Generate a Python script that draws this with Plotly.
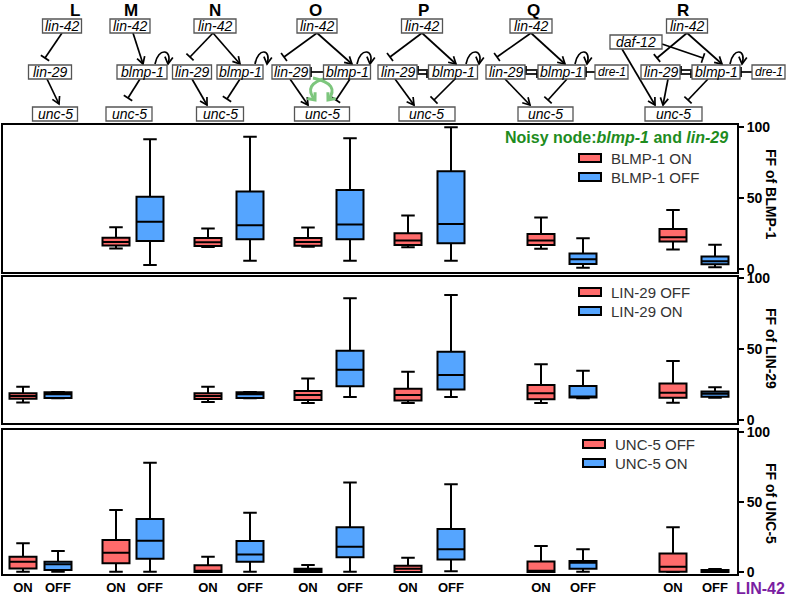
import plotly.graph_objects as go
import math

# ---------------- DATA ----------------
groups = ["L", "M", "N", "O", "P", "Q", "R"]
state_labels = ["ON", "OFF"]

# Panel 1: FF of BLMP-1  (red = BLMP-1 ON, blue = BLMP-1 OFF); None = not shown
blmp_on_lf  = [None, 14.5, 15.5, 15.7, 15.3, 14.3, 13.8]
blmp_on_q1  = [None, 16.5, 16.2, 16.4, 16.9, 16.9, 19.3]
blmp_on_med = [None, 19.0, 18.8, 19.0, 20.0, 20.0, 22.3]
blmp_on_q3  = [None, 22.0, 21.8, 21.8, 25.1, 24.6, 28.2]
blmp_on_uf  = [None, 29.4, 28.6, 29.3, 37.6, 36.2, 41.5]
blmp_off_lf  = [None, 2.8, 5.9, 5.9, 5.9, 0.9, 1.2]
blmp_off_q1  = [None, 19.7, 20.9, 20.9, 18.1, 3.5, 3.3]
blmp_off_med = [None, 33.3, 30.8, 31.4, 31.7, 6.8, 5.4]
blmp_off_q3  = [None, 50.9, 54.5, 55.6, 68.8, 11.0, 8.9]
blmp_off_uf  = [None, 91.3, 93.2, 92.0, 99.8, 21.6, 17.1]

# Panel 2: FF of LIN-29 (red = LIN-29 OFF, blue = LIN-29 ON)
lin_off_lf  = [12.4, None, 12.7, 12.0, 12.0, 12.0, 12.2]
lin_off_q1  = [15.0, None, 14.8, 14.1, 13.8, 14.6, 15.7]
lin_off_med = [16.9, None, 16.9, 17.6, 17.6, 18.8, 19.2]
lin_off_q3  = [18.8, None, 18.8, 20.4, 22.1, 24.6, 25.8]
lin_off_uf  = [23.5, None, 23.5, 29.3, 34.0, 39.2, 41.5]
lin_on_lf  = [15.3, None, 15.3, 16.2, 16.2, 15.3, 15.7]
lin_on_q1  = [15.5, None, 15.5, 23.7, 21.4, 15.8, 16.4]
lin_on_med = [18.1, None, 18.1, 35.4, 31.7, 16.5, 18.5]
lin_on_q3  = [19.5, None, 19.5, 48.8, 48.1, 23.9, 20.0]
lin_on_uf  = [19.8, None, 19.8, 85.7, 88.0, 34.7, 23.0]

# Panel 3: FF of UNC-5 (red = UNC-5 OFF, blue = UNC-5 ON)
unc_off_lf  = [0.2, 0.2, 0.0, 0.0, 0.0, 0.0, 0.0]
unc_off_q1  = [2.6, 6.2, 0.0, 0.0, 0.0, 0.0, 0.2]
unc_off_med = [7.4, 13.8, 0.9, 1.0, 2.4, 1.0, 3.8]
unc_off_q3  = [10.9, 22.9, 4.8, 2.4, 4.5, 7.6, 13.3]
unc_off_uf  = [20.5, 44.3, 10.9, 5.0, 10.2, 18.6, 31.9]
unc_on_lf  = [0.2, 0.2, 0.2, 0.2, 0.5, 0.2, 0.0]
unc_on_q1  = [1.4, 9.5, 7.4, 10.5, 9.0, 2.4, 0.0]
unc_on_med = [5.5, 22.4, 12.6, 18.1, 16.2, 6.7, 0.7]
unc_on_q3  = [7.4, 37.9, 22.1, 31.9, 30.7, 7.9, 1.4]
unc_on_uf  = [15.0, 78.1, 42.4, 64.0, 62.6, 16.2, 2.1]

y_ticks = [0, 50, 100]

# ---------------- LAYOUT CONSTANTS ----------------
W, H = 787, 596
FONT = "Arial, Liberation Sans, sans-serif"
RED = "#FF6B6B"
BLUE = "#55A5FF"
group_center = {"L": 40.5, "M": 133, "N": 229, "O": 329, "P": 429.5, "Q": 562, "R": 694}
group_half = {"L": 17.5, "M": 17, "N": 21, "O": 21, "P": 21.5, "Q": 21, "R": 21}
on_pos = [group_center[g] - group_half[g] for g in groups]
off_pos = [group_center[g] + group_half[g] for g in groups]

def X(px):
    return px / W

def Y(py):
    return 1 - py / H

panel_px = [(125, 272), (277, 423), (430, 574)]
panel_range = [(-2.1, 101.4), (-2.1, 100.7), (-1.4, 101.4)]
x_dom = [X(3), X(737)]

fig = go.Figure()

def add_boxes(pos, lf, q1, med, q3, uf, color, ax_idx):
    xs, a, b, c, d, e = [], [], [], [], [], []
    for i in range(len(pos)):
        if med[i] is None:
            continue
        xs.append(pos[i]); a.append(lf[i]); b.append(q1[i]); c.append(med[i]); d.append(q3[i]); e.append(uf[i])
    sfx = "" if ax_idx == 1 else str(ax_idx)
    fig.add_trace(go.Box(
        x=xs, lowerfence=a, q1=b, median=c, q3=d, upperfence=e,
        fillcolor=color, line=dict(color="black", width=2),
        width=27, whiskerwidth=0.5, boxpoints=False, showlegend=False,
        hoverinfo="skip", xaxis="x" + sfx, yaxis="y" + sfx))

add_boxes(on_pos, blmp_on_lf, blmp_on_q1, blmp_on_med, blmp_on_q3, blmp_on_uf, RED, 1)
add_boxes(off_pos, blmp_off_lf, blmp_off_q1, blmp_off_med, blmp_off_q3, blmp_off_uf, BLUE, 1)
add_boxes(on_pos, lin_off_lf, lin_off_q1, lin_off_med, lin_off_q3, lin_off_uf, RED, 2)
add_boxes(off_pos, lin_on_lf, lin_on_q1, lin_on_med, lin_on_q3, lin_on_uf, BLUE, 2)
add_boxes(on_pos, unc_off_lf, unc_off_q1, unc_off_med, unc_off_q3, unc_off_uf, RED, 3)
add_boxes(off_pos, unc_on_lf, unc_on_q1, unc_on_med, unc_on_q3, unc_on_uf, BLUE, 3)

layout = dict(
    template="none",
    width=W, height=H, margin=dict(l=0, r=0, t=0, b=0, pad=0), autosize=False,
    paper_bgcolor="white", plot_bgcolor="white", showlegend=False,
    font=dict(family=FONT, color="black"), boxmode="overlay",
)
tickpos = []
ticktxt = []
for i in range(len(groups)):
    tickpos += [on_pos[i], off_pos[i]]
    ticktxt += state_labels
for k in range(3):
    sfx = "" if k == 0 else str(k + 1)
    top, bot = panel_px[k]
    layout["xaxis" + sfx] = dict(
        domain=x_dom, range=[3, 737], anchor="y" + sfx, automargin=False,
        showline=True, mirror=True, linecolor="black", linewidth=2,
        showgrid=False, zeroline=False,
        tickvals=tickpos if k == 2 else [], ticktext=ticktxt if k == 2 else [],
        showticklabels=(k == 2), ticks="", ticklabelstandoff=0,
        tickfont=dict(size=13, weight="bold", family=FONT, color="black"),
    )
    layout["yaxis" + sfx] = dict(
        domain=[Y(bot), Y(top)], range=list(panel_range[k]), anchor="x" + sfx,
        automargin=False,
        side="right", showline=True, mirror=True, linecolor="black", linewidth=2,
        showgrid=False, zeroline=False, ticks="outside", ticklen=5, tickwidth=2,
        tickcolor="black",
        tickvals=y_ticks, tickfont=dict(size=14, weight="bold", family=FONT, color="black"),
    )
fig.update_layout(**layout)

shapes = []
annos = []

def text(x, y, s, size, color="black", weight="normal", xanchor="center", angle=0):
    annos.append(dict(x=X(x), y=Y(y), xref="paper", yref="paper", text=s,
                      xanchor=xanchor, yanchor="middle", textangle=angle,
                      showarrow=False, borderpad=0,
                      font=dict(size=size, weight=weight, family=FONT, color=color)))

# axis titles (rotated to read top-to-bottom)
for title, cy in [("FF of BLMP-1", 194), ("FF of LIN-29", 348), ("FF of UNC-5", 503)]:
    text(771, cy, title, 14, weight="bold", angle=90)

text(786, 588, "LIN-42", 16, color="#7B1FA2", weight="bold", xanchor="right")
text(729, 137, "Noisy node:<i>blmp-1</i> and <i>lin-29</i>", 16, color="#1E8C1E",
     weight="bold", xanchor="right")

# manual legends
legend_items = [
    (579, 158, RED, "BLMP-1 ON"), (579, 177, BLUE, "BLMP-1 OFF"),
    (579, 292, RED, "LIN-29 OFF"), (579, 311, BLUE, "LIN-29 ON"),
    (583, 444, RED, "UNC-5 OFF"), (583, 463, BLUE, "UNC-5 ON"),
]
for lx, ly, col, txt in legend_items:
    shapes.append(dict(type="rect", xref="paper", yref="paper",
                       x0=X(lx), x1=X(lx + 22), y0=Y(ly - 4), y1=Y(ly + 4),
                       fillcolor=col, line=dict(color="black", width=2)))
    text(lx + 31, ly, txt, 15, color="#333333", xanchor="left")

# ---------------- network diagrams ----------------
def node(cx, cy, w, s, size=14):
    shapes.append(dict(type="rect", xref="paper", yref="paper",
                       x0=X(cx - w / 2), x1=X(cx + w / 2), y0=Y(cy - 7), y1=Y(cy + 7),
                       fillcolor="white", line=dict(color="#555555", width=1.3)))
    text(cx, cy, "<i>%s</i>" % s, size)

def seg(x0, y0, x1, y1, color="black", width=1.7):
    shapes.append(dict(type="line", xref="paper", yref="paper",
                       x0=X(x0), y0=Y(y0), x1=X(x1), y1=Y(y1),
                       line=dict(color=color, width=width)))

def head(x0, y0, x1, y1, color="black", width=1.7, L=7, Wd=4):
    dx, dy = x1 - x0, y1 - y0
    n = math.hypot(dx, dy)
    ux, uy = dx / n, dy / n
    px, py = -uy, ux
    ax, ay = x1 - L * ux + Wd * px, y1 - L * uy + Wd * py
    bx, by = x1 - L * ux - Wd * px, y1 - L * uy - Wd * py
    shapes.append(dict(type="path", xref="paper", yref="paper",
                       path="M %f,%f L %f,%f L %f,%f" % (X(ax), Y(ay), X(x1), Y(y1), X(bx), Y(by)),
                       line=dict(color=color, width=width)))

def act(x0, y0, x1, y1):
    seg(x0, y0, x1, y1)
    head(x0, y0, x1, y1)

def inh(x0, y0, x1, y1, T=5):
    seg(x0, y0, x1, y1)
    dx, dy = x1 - x0, y1 - y0
    n = math.hypot(dx, dy)
    px, py = -dy / n, dx / n
    seg(x1 + T * px, y1 + T * py, x1 - T * px, y1 - T * py)

def loop(x0, x1, y=64):
    shapes.append(dict(type="path", xref="paper", yref="paper",
                       path="M %f,%f C %f,%f %f,%f %f,%f" % (
                           X(x0), Y(y), X(x0 + 3), Y(y - 17), X(x1 + 5), Y(y - 15), X(x1), Y(y)),
                       line=dict(color="black", width=1.7)))
    head(x1 + 1, y - 8, x1, y)

def curve(p0, c, p1, color, width):
    shapes.append(dict(type="path", xref="paper", yref="paper",
                       path="M %f,%f Q %f,%f %f,%f" % (X(p0[0]), Y(p0[1]), X(c[0]), Y(c[1]), X(p1[0]), Y(p1[1])),
                       line=dict(color=color, width=width)))
    head(c[0], c[1], p1[0], p1[1], color=color, width=width, L=6, Wd=5)

def mutual(xl, xr, y=72):
    # lin-29 (right edge xl) <-> blmp-1 (left edge xr): mutual inhibition
    seg(xr, y - 2, xl + 1, y - 2)
    seg(xl + 1, y - 6, xl + 1, y + 1)
    seg(xl, y + 2, xr - 1, y + 2)
    seg(xr - 1, y - 1, xr - 1, y + 6)

# labels
for lab, lx in [("L", 75), ("M", 131), ("N", 215), ("O", 315), ("P", 423), ("Q", 533), ("R", 683)]:
    text(lx, 10, lab, 17, weight="bold")

# edges first (nodes drawn on top)
# L
inh(62, 33, 45, 58); act(47, 79, 59, 104)
# M
act(133, 33, 143, 64); loop(155, 168); inh(140, 79, 128, 98)
# N
inh(213, 33, 190, 57); act(213, 33, 240, 64); loop(255, 267)
act(192, 79, 207, 105); inh(240, 79, 227, 99)
# O
inh(317, 33, 284, 57); act(317, 33, 352, 64); loop(357, 370)
act(290, 79, 308, 105); inh(350, 79, 336, 100)
inh(324, 72, 311, 72)
curve((327, 78), (302, 84), (315, 100), "#7DC67D", 3)
curve((313, 78), (341, 84), (328, 100), "#7DC67D", 3)
# P
inh(422, 33, 390, 57); act(422, 33, 456, 64); loop(466, 479)
mutual(417, 428)
act(395, 79, 414, 105); inh(455, 79, 434, 100)
# Q
inh(531, 33, 497, 57); act(531, 33, 565, 64); loop(575, 587)
mutual(525, 538)
inh(595, 72, 586, 72)
act(505, 79, 530, 105); inh(567, 79, 548, 100)
# R
inh(687, 33, 657, 58); act(687, 33, 722, 64); loop(730, 742)
inh(662, 44, 703, 58); act(622, 49, 655, 105)
mutual(680, 692)
inh(752, 72, 741, 72)
act(668, 79, 663, 105); inh(708, 79, 688, 100)

# nodes
node(62, 26, 39, "lin-42"); node(50, 72, 43, "lin-29"); node(55, 114, 45, "unc-5")
node(130, 26, 40, "lin-42"); node(142, 72, 50, "blmp-1"); node(129, 114, 46, "unc-5")
node(215, 26, 42, "lin-42"); node(192, 72, 39, "lin-29"); node(240, 72, 46, "blmp-1"); node(220, 114, 47, "unc-5")
node(317, 26, 40, "lin-42"); node(291, 72, 38, "lin-29"); node(347, 72, 47, "blmp-1"); node(322, 114, 55, "unc-5")
node(422, 26, 41, "lin-42"); node(397.5, 72, 39, "lin-29"); node(453, 72, 49, "blmp-1"); node(427, 114, 56, "unc-5")
node(531, 26, 42, "lin-42"); node(505.5, 72, 39, "lin-29"); node(561.5, 72, 47, "blmp-1"); node(611.5, 72, 33, "dre-1", 12); node(545.5, 114, 55, "unc-5")
node(687, 26, 41, "lin-42"); node(636, 42, 52, "daf-12"); node(660.5, 72, 39, "lin-29"); node(716, 72, 48, "blmp-1"); node(768.5, 72, 33, "dre-1", 12); node(673.5, 114, 57, "unc-5")

fig.update_layout(shapes=shapes, annotations=annos)
fig.write_html("out.html", config={"displayModeBar": False},
               post_script="document.body.style.margin='0';document.body.style.overflow='hidden';")
